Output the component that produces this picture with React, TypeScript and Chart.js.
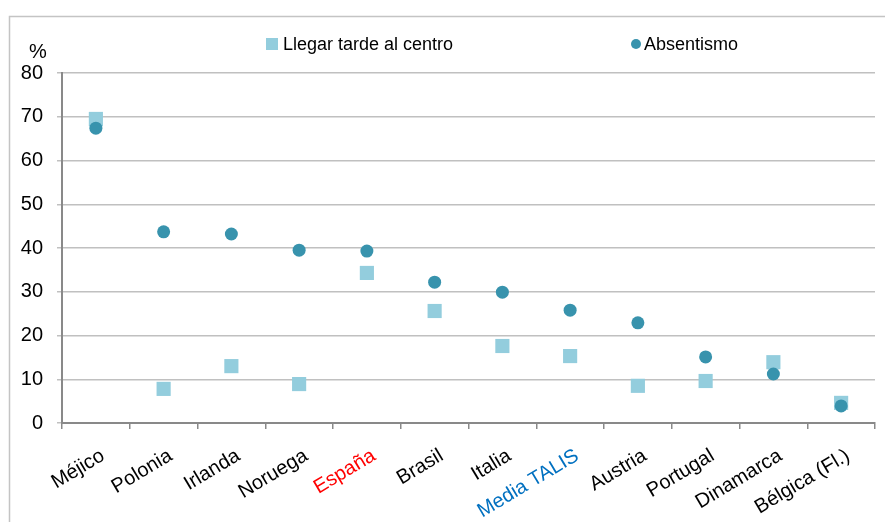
import React, { useEffect, useRef } from "react";
import { Chart, registerables } from "chart.js";

Chart.register(...registerables);

const categories = [
  "Méjico",
  "Polonia",
  "Irlanda",
  "Noruega",
  "España",
  "Brasil",
  "Italia",
  "Media TALIS",
  "Austria",
  "Portugal",
  "Dinamarca",
  "Bélgica (Fl.)",
];

const llegarTarde = [69.5, 7.8, 13.0, 8.9, 34.3, 25.6, 17.6, 15.3, 8.5, 9.6, 13.9, 4.6];
const absentismo = [67.4, 43.7, 43.2, 39.5, 39.3, 32.2, 29.9, 25.8, 22.9, 15.1, 11.2, 3.9];

const yTicks = [0, 10, 20, 30, 40, 50, 60, 70, 80];

const seriesNames = ["Llegar tarde al centro", "Absentismo"];

const FONT = "'Liberation Sans', Arial, sans-serif";
const SQUARE_COLOR = "#93CDDD";
const CIRCLE_COLOR = "#3893AD";

const labelColor = (label: string) => {
  if (label === "España") return "#FF0000";
  if (label === "Media TALIS") return "#0070C0";
  return "#000000";
};

const decorPlugin = {
  id: "decor",
  beforeDraw(chart: any) {
    const ctx = chart.ctx;
    ctx.save();
    ctx.strokeStyle = "#C4C4C4";
    ctx.lineWidth = 1.5;
    ctx.beginPath();
    ctx.moveTo(9.5, 522);
    ctx.lineTo(9.5, 16.5);
    ctx.lineTo(885, 16.5);
    ctx.stroke();
    ctx.restore();
  },
  afterDraw(chart: any) {
    const ctx = chart.ctx;
    ctx.save();
    ctx.fillStyle = "#000";
    ctx.font = `20px ${FONT}`;
    ctx.textAlign = "left";
    ctx.textBaseline = "middle";
    ctx.fillText("%", 29, 52);

    // legend
    ctx.font = `18px ${FONT}`;
    ctx.fillStyle = SQUARE_COLOR;
    ctx.fillRect(266, 38, 12, 12);
    ctx.fillStyle = "#000";
    ctx.fillText(seriesNames[0], 283, 45);
    ctx.fillStyle = CIRCLE_COLOR;
    ctx.beginPath();
    ctx.arc(636, 44, 5, 0, Math.PI * 2);
    ctx.fill();
    ctx.fillStyle = "#000";
    ctx.fillText(seriesNames[1], 644, 45);
    ctx.restore();
  },
};

export default function App() {
  const canvasRef = useRef<HTMLCanvasElement | null>(null);

  useEffect(() => {
    if (!canvasRef.current) return;
    const chart = new Chart(canvasRef.current, {
      type: "line",
      data: {
        labels: categories,
        datasets: [
          {
            label: seriesNames[0],
            data: llegarTarde,
            showLine: false,
            pointStyle: "rect",
            pointRadius: 10,
            pointHoverRadius: 10,
            backgroundColor: SQUARE_COLOR,
            borderColor: SQUARE_COLOR,
            borderWidth: 0,
            order: 2,
          },
          {
            label: seriesNames[1],
            data: absentismo,
            showLine: false,
            pointStyle: "circle",
            pointRadius: 6.5,
            pointHoverRadius: 6.5,
            backgroundColor: CIRCLE_COLOR,
            borderColor: CIRCLE_COLOR,
            borderWidth: 0,
            order: 1,
          },
        ],
      },
      options: {
        animation: false,
        responsive: true,
        maintainAspectRatio: false,
        layout: { padding: { top: 73, left: 0, right: 0, bottom: 0 } },
        plugins: {
          legend: { display: false },
          tooltip: { enabled: false },
        },
        scales: {
          x: {
            type: "category",
            offset: true,
            grid: {
              offset: true,
              drawOnChartArea: false,
              drawTicks: true,
              tickLength: 6,
              color: "#898989",
              lineWidth: 1.5,
            },
            border: { color: "#898989", width: 2 },
            ticks: {
              autoSkip: false,
              minRotation: 31,
              maxRotation: 31,
              padding: 15,
              labelOffset: 7,
              font: { family: FONT, size: 20 },
              color: (ctx: any) => labelColor(categories[ctx.index]),
            },
            afterFit: (scale: any) => {
              scale.height = 99;
            },
          },
          y: {
            min: 0,
            max: 80,
            afterBuildTicks: (scale: any) => {
              scale.ticks = yTicks.map((v) => ({ value: v }));
            },
            grid: {
              color: "#C0C0C0",
              lineWidth: 1.5,
              tickLength: 5,
            },
            border: { color: "#898989", width: 2 },
            ticks: {
              padding: 14,
              font: { family: FONT, size: 20 },
              color: "#000",
            },
            afterFit: (scale: any) => {
              scale.width = 62;
            },
          },
        },
      },
      plugins: [decorPlugin],
    });
    return () => chart.destroy();
  }, []);

  return (
    <div style={{ position: "fixed", left: 0, top: 0, width: 885, height: 522, background: "#fff" }}>
      <canvas ref={canvasRef} />
    </div>
  );
}
